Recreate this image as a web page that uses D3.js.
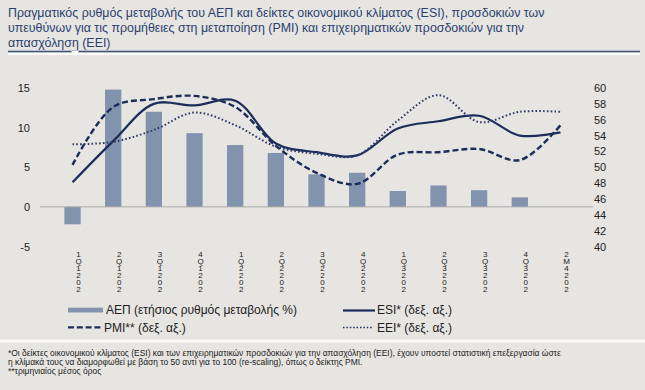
<!DOCTYPE html>
<html><head><meta charset="utf-8">
<script src="https://cdn.jsdelivr.net/npm/d3@7"></script>
<style>
html,body{margin:0;padding:0;background:#e6e5e1;}
svg{display:block;font-family:"Liberation Sans",Arial,sans-serif;}
</style></head><body>
<svg id="c" width="645" height="390"></svg>
<script>
const quarters = ["1Q","2Q","3Q","4Q","1Q","2Q","3Q","4Q","1Q","2Q","3Q","4Q","2M"];
const years = ["2021","2021","2021","2021","2022","2022","2022","2022","2023","2023","2023","2023","2024"];
const gdp = [-2.2, 14.8, 12.0, 9.3, 7.8, 6.8, 4.1, 4.3, 2.0, 2.7, 2.1, 1.2, null];
const esi = [48.1, 53.3, 58.0, 57.8, 58.4, 53.0, 51.9, 51.5, 54.9, 55.8, 56.5, 54.0, 54.4];
const pmi = [50.3, 57.6, 58.6, 59.0, 57.6, 52.7, 49.3, 47.9, 51.6, 51.9, 52.3, 50.9, 55.3];
const eei = [52.9, 53.2, 54.7, 56.9, 55.3, 52.6, 51.7, 51.5, 55.9, 59.1, 55.7, 57.0, 57.0];
const leftTicks = [15, 10, 5, 0, -5];
const rightTicks = [60, 58, 56, 54, 52, 50, 48, 46, 44, 42, 40];
const titleLines = [
  "Πραγματικός ρυθμός μεταβολής του ΑΕΠ και δείκτες οικονομικού κλίματος (ESI), προσδοκιών των",
  "υπευθύνων για τις προμήθειες στη μεταποίηση (PMI) και επιχειρηματικών προσδοκιών για την",
  "απασχόληση (EEI)"
];
const legendLabels = ["ΑΕΠ (ετήσιος ρυθμός μεταβολής %)", "ESI* (δεξ. αξ.)", "PMI** (δεξ. αξ.)", "EEI* (δεξ. αξ.)"];
const notes = [
  "*Οι δείκτες οικονομικού κλίματος (ESI) και των επιχειρηματικών προσδοκιών για την απασχόληση (EEI), έχουν υποστεί στατιστική επεξεργασία ώστε",
  "η κλίμακά τους να διαμορφωθεί με βάση το 50 αντί για το 100 (re-scaling), όπως ο δείκτης PMI.",
  "**τριμηνιαίος μέσος όρος"
];

const barColor = "#8193ad", lineColor = "#1c2d5c", textColor = "#222";
const svg = d3.select("#c");
const idx = d3.range(quarters.length);
const x = d3.scaleBand().domain(idx).range([40, 593]).padding(0.6);
const yL = d3.scaleLinear().domain([-5, 15]).range([246.5, 88]);
const yR = d3.scaleLinear().domain([40, 60]).range([246.5, 88]);
const cx = i => x(i) + x.bandwidth() / 2;

// title
const tg = svg.append("g");
titleLines.forEach((t, i) => tg.append("text").attr("x", 8).attr("y", 17 + i * 15)
  .attr("font-size", 12.4).attr("fill", "#2b4170").text(t));
svg.append("line").attr("x1", 8).attr("x2", 640).attr("y1", 51.5).attr("y2", 51.5)
  .attr("stroke", "#3e5580").attr("stroke-width", 1.6);
svg.append("path").attr("d", "M71,51 L79,51 L75,56 Z").attr("fill", "#fff");
svg.append("line").attr("x1", 8).attr("x2", 640).attr("y1", 54).attr("y2", 54)
  .attr("stroke", "#fbfbfa").attr("stroke-width", 2);

// bars
svg.append("g").selectAll("rect").data(idx.filter(i => gdp[i] != null)).join("rect")
  .attr("x", i => x(i)).attr("width", x.bandwidth())
  .attr("y", i => Math.min(yL(0), yL(gdp[i])))
  .attr("height", i => Math.abs(yL(gdp[i]) - yL(0)))
  .attr("fill", barColor);

// zero line
svg.append("line").attr("x1", 40).attr("x2", 593).attr("y1", yL(0)).attr("y2", yL(0))
  .attr("stroke", "#a9a9a9").attr("stroke-width", 1);

// left axis
const axL = d3.axisLeft(yL).tickValues(leftTicks).tickSize(0).tickPadding(0).tickFormat(d => String(d));
const gL = svg.append("g").attr("transform", "translate(30,0)").call(axL);
gL.select(".domain").remove();
gL.selectAll("text").attr("font-size", 11).attr("fill", textColor).attr("font-family", "Liberation Sans, Arial, sans-serif");

// right axis
const axR = d3.axisRight(yR).tickValues(rightTicks).tickSize(0).tickPadding(0);
const gR = svg.append("g").attr("transform", "translate(594,0)").call(axR);
gR.select(".domain").remove();
gR.selectAll("text").attr("font-size", 11).attr("fill", textColor).attr("font-family", "Liberation Sans, Arial, sans-serif");

// lines
const line = d3.line().x((d, i) => cx(i)).y(d => yR(d)).curve(d3.curveCatmullRom.alpha(0.5));
svg.append("path").attr("d", line(esi)).attr("fill", "none").attr("stroke", lineColor).attr("stroke-width", 2.2);
svg.append("path").attr("d", line(pmi)).attr("fill", "none").attr("stroke", lineColor).attr("stroke-width", 2.4).attr("stroke-dasharray", "6,3");
svg.append("path").attr("d", line(eei)).attr("fill", "none").attr("stroke", "#2c3a66").attr("stroke-width", 2).attr("stroke-dasharray", "1.6,2.2");

// x labels (stacked characters)
const xg = svg.append("g");
idx.forEach(i => {
  const chars = [quarters[i][0], quarters[i][1]].concat(years[i].split("").reverse());
  const t = xg.append("text").attr("font-size", 8).attr("fill", textColor).attr("text-anchor", "middle");
  chars.forEach((ch, k) => t.append("tspan").attr("x", cx(i) + 6).attr("y", 257 + k * 7).text(ch));
});

// legend
const lg = svg.append("g");
lg.append("rect").attr("x", 68).attr("y", 307.7).attr("width", 35).attr("height", 4.8).attr("fill", barColor);
lg.append("line").attr("x1", 343).attr("x2", 375).attr("y1", 310.5).attr("y2", 310.5).attr("stroke", lineColor).attr("stroke-width", 2.2);
lg.append("line").attr("x1", 68).attr("x2", 102).attr("y1", 327.3).attr("y2", 327.3).attr("stroke", lineColor).attr("stroke-width", 2.2).attr("stroke-dasharray", "6,2.8");
lg.append("line").attr("x1", 343).attr("x2", 373).attr("y1", 327.5).attr("y2", 327.5).attr("stroke", lineColor).attr("stroke-width", 1.6).attr("stroke-dasharray", "1.5,1.9");
[[106, 314], [377, 314], [104, 331.5], [377, 331.5]].forEach((p, i) =>
  lg.append("text").attr("x", p[0]).attr("y", p[1]).attr("font-size", 12).attr("fill", textColor).text(legendLabels[i]));

// footnote
svg.append("line").attr("x1", 0).attr("x2", 645).attr("y1", 341).attr("y2", 341).attr("stroke", "#fbfbfa").attr("stroke-width", 3);
notes.forEach((t, i) => svg.append("text").attr("x", 8).attr("y", 356 + i * 9).attr("font-size", 8.45).attr("fill", textColor).text(t));
</script></body></html>
